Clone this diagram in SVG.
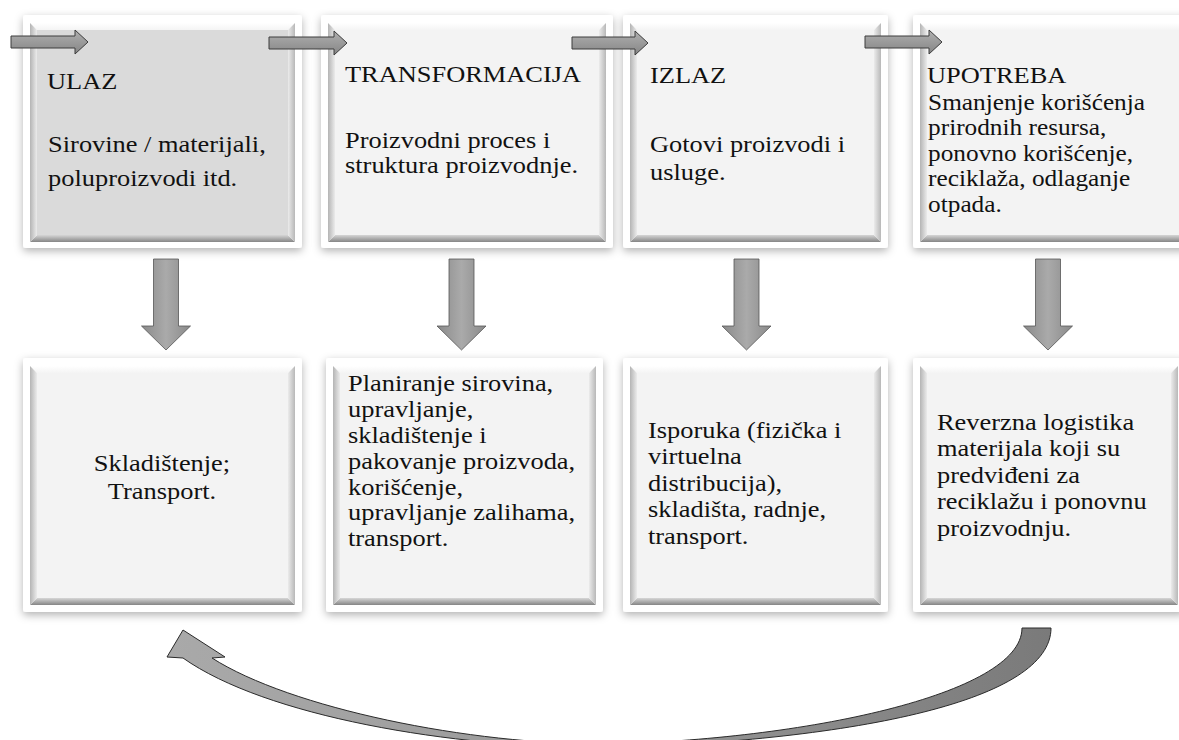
<svg xmlns="http://www.w3.org/2000/svg" width="1179" height="740" viewBox="0 0 1179 740">
<defs>
<filter id="sh" x="-10%" y="-10%" width="120%" height="125%">
<feDropShadow dx="0" dy="3" stdDeviation="4" flood-color="#000" flood-opacity="0.3"/>
</filter>
<linearGradient id="gTop" x1="0" y1="0" x2="0" y2="1"><stop offset="0" stop-color="#ffffff"/><stop offset="1" stop-color="#f4f4f4"/></linearGradient>
<linearGradient id="gBot" x1="0" y1="0" x2="0" y2="1"><stop offset="0" stop-color="#d6d6d6"/><stop offset="1" stop-color="#858585"/></linearGradient>
<linearGradient id="gLeft" x1="0" y1="0" x2="1" y2="0"><stop offset="0" stop-color="#b4b4b4"/><stop offset="1" stop-color="#ebebeb"/></linearGradient>
<linearGradient id="gRight" x1="0" y1="0" x2="1" y2="0"><stop offset="0" stop-color="#ebebeb"/><stop offset="1" stop-color="#b8b8b8"/></linearGradient>
<linearGradient id="gH" x1="0" y1="0" x2="0" y2="1"><stop offset="0" stop-color="#b0b0b0"/><stop offset="1" stop-color="#858585"/></linearGradient>
<linearGradient id="gV" x1="0" y1="0" x2="1" y2="0"><stop offset="0" stop-color="#8a8a8a"/><stop offset="0.5" stop-color="#aaaaaa"/><stop offset="1" stop-color="#8a8a8a"/></linearGradient>
<linearGradient id="gC" x1="0" y1="0" x2="1" y2="0"><stop offset="0" stop-color="#a9a9a9"/><stop offset="0.5" stop-color="#999999"/><stop offset="1" stop-color="#7a7a7a"/></linearGradient>
</defs>
<style>
.frame{fill:#ffffff;filter:url(#sh)}
.bt{fill:url(#gTop)}
.bb{fill:url(#gBot)}
.bl{fill:url(#gLeft)}
.br{fill:url(#gRight)}
.face{fill:#f3f3f3}
.face1{fill:#dadada}
.t{font-family:"Liberation Serif","Times New Roman",serif;font-size:24px;fill:#111}
.s{font-size:23px}
.c{text-anchor:middle}
.ah{fill:url(#gH);stroke:#3c3c3c;stroke-width:1}
.av{fill:url(#gV);stroke:#555;stroke-width:0.8}
.ac{fill:url(#gC);stroke:#2a2a2a;stroke-width:1}
</style>

<g id="top1">
<rect class="frame" x="23" y="15" width="279" height="233" rx="3"/>
<polygon class="bt" points="30,23 295,23 288,30 37,30"/>
<polygon class="bb" points="30,242 295,242 288,235 37,235"/>
<polygon class="bl" points="30,23 37,30 37,235 30,242"/>
<polygon class="br" points="295,23 288,30 288,235 295,242"/>
<rect class="face1" x="37" y="30" width="251" height="205"/>
<g transform="translate(47,0) scale(1.1,1)">
<text class="t" x="0" y="89">ULAZ</text>
<text class="t" x="1" y="152">Sirovine / materijali,</text>
<text class="t" x="1" y="186">poluproizvodi itd.</text>
</g>
</g>

<g id="top2">
<rect class="frame" x="321" y="15" width="292" height="233" rx="3"/>
<polygon class="bt" points="328,23 606,23 599,30 335,30"/>
<polygon class="bb" points="328,242 606,242 599,235 335,235"/>
<polygon class="bl" points="328,23 335,30 335,235 328,242"/>
<polygon class="br" points="606,23 599,30 599,235 606,242"/>
<rect class="face" x="335" y="30" width="264" height="205"/>
<g transform="translate(345,0) scale(1.1,1)">
<text class="t" x="0" y="82">TRANSFORMACIJA</text>
<text class="t" x="0" y="148">Proizvodni proces i</text>
<text class="t" x="0" y="173">struktura proizvodnje.</text>
</g>
</g>

<g id="top3">
<rect class="frame" x="623" y="15" width="265" height="233" rx="3"/>
<polygon class="bt" points="630,23 881,23 874,30 637,30"/>
<polygon class="bb" points="630,242 881,242 874,235 637,235"/>
<polygon class="bl" points="630,23 637,30 637,235 630,242"/>
<polygon class="br" points="881,23 874,30 874,235 881,242"/>
<rect class="face" x="637" y="30" width="237" height="205"/>
<g transform="translate(650,0) scale(1.1,1)">
<text class="t" x="0" y="83">IZLAZ</text>
<text class="t" x="0" y="152">Gotovi proizvodi i</text>
<text class="t" x="0" y="180">usluge.</text>
</g>
</g>

<g id="top4">
<rect class="frame" x="913" y="15" width="280" height="233" rx="3"/>
<polygon class="bt" points="920,23 1186,23 1179,30 927,30"/>
<polygon class="bb" points="920,242 1186,242 1179,235 927,235"/>
<polygon class="bl" points="920,23 927,30 927,235 920,242"/>
<rect class="face" x="927" y="30" width="260" height="205"/>
<g transform="translate(927,0) scale(1.1,1)">
<text class="t" x="0" y="83">UPOTREBA</text>
<text class="t s" x="1" y="110">Smanjenje korišćenja</text>
<text class="t s" x="1" y="135.5">prirodnih resursa,</text>
<text class="t s" x="1" y="161">ponovno korišćenje,</text>
<text class="t s" x="1" y="186.5">reciklaža, odlaganje</text>
<text class="t s" x="1" y="212">otpada.</text>
</g>
</g>

<g id="bot1">
<rect class="frame" x="23" y="358" width="279" height="254" rx="3"/>
<polygon class="bt" points="30,366 295,366 288,373 37,373"/>
<polygon class="bb" points="30,605 295,605 288,598 37,598"/>
<polygon class="bl" points="30,366 37,373 37,598 30,605"/>
<polygon class="br" points="295,366 288,373 288,598 295,605"/>
<rect class="face" x="37" y="373" width="251" height="225"/>
<g transform="translate(162,0) scale(1.1,1)">
<text class="t c" x="0" y="471">Skladištenje;</text>
<text class="t c" x="0" y="499">Transport.</text>
</g>
</g>

<g id="bot2">
<rect class="frame" x="326" y="358" width="277" height="254" rx="3"/>
<polygon class="bt" points="333,366 596,366 589,373 340,373"/>
<polygon class="bb" points="333,605 596,605 589,598 340,598"/>
<polygon class="bl" points="333,366 340,373 340,598 333,605"/>
<polygon class="br" points="596,366 589,373 589,598 596,605"/>
<rect class="face" x="340" y="373" width="249" height="225"/>
<g transform="translate(348,0) scale(1.1,1)">
<text class="t" x="0" y="391.5">Planiranje sirovina,</text>
<text class="t" x="0" y="417.3">upravljanje,</text>
<text class="t" x="0" y="443.1">skladištenje i</text>
<text class="t" x="0" y="468.9">pakovanje proizvoda,</text>
<text class="t" x="0" y="494.7">korišćenje,</text>
<text class="t" x="0" y="520.5">upravljanje zalihama,</text>
<text class="t" x="0" y="546.3">transport.</text>
</g>
</g>

<g id="bot3">
<rect class="frame" x="623" y="358" width="265" height="254" rx="3"/>
<polygon class="bt" points="630,366 881,366 874,373 637,373"/>
<polygon class="bb" points="630,605 881,605 874,598 637,598"/>
<polygon class="bl" points="630,366 637,373 637,598 630,605"/>
<polygon class="br" points="881,366 874,373 874,598 881,605"/>
<rect class="face" x="637" y="373" width="237" height="225"/>
<g transform="translate(648,0) scale(1.1,1)">
<text class="t" x="0" y="438">Isporuka (fizička i</text>
<text class="t" x="0" y="464.5">virtuelna</text>
<text class="t" x="0" y="491">distribucija),</text>
<text class="t" x="0" y="517.5">skladišta, radnje,</text>
<text class="t" x="0" y="544">transport.</text>
</g>
</g>

<g id="bot4">
<rect class="frame" x="913" y="358" width="272" height="254" rx="3"/>
<polygon class="bt" points="920,366 1178,366 1171,373 927,373"/>
<polygon class="bb" points="920,605 1178,605 1171,598 927,598"/>
<polygon class="bl" points="920,366 927,373 927,598 920,605"/>
<polygon class="br" points="1178,366 1171,373 1171,598 1178,605"/>
<rect class="face" x="927" y="373" width="244" height="225"/>
<g transform="translate(937,0) scale(1.1,1)">
<text class="t" x="0" y="430">Reverzna logistika</text>
<text class="t" x="0" y="456.5">materijala koji su</text>
<text class="t" x="0" y="483">predviđeni za</text>
<text class="t" x="0" y="509.5">reciklažu i ponovnu</text>
<text class="t" x="0" y="536">proizvodnju.</text>
</g>
</g>

<g id="connectors">
<polygon class="ah" points="11,36 75,36 75,30 88,42 75,54 75,48 11,48"/>
<polygon class="ah" points="269,37 334,37 334,31 347,43 334,55 334,49 269,49"/>
<polygon class="ah" points="572,37 635,37 635,31 648,43 635,55 635,49 572,49"/>
<polygon class="ah" points="865,36 929,36 929,30 942,42 929,54 929,48 865,48"/>
<polygon class="av" points="153.5,259 178.5,259 178.5,326 190.5,326 166,350 141.5,326 153.5,326"/>
<polygon class="av" points="449,259 474,259 474,326 486,326 461.5,350 437,326 449,326"/>
<polygon class="av" points="734,259 759,259 759,326 771,326 746.5,350 722,326 734,326"/>
<polygon class="av" points="1035.5,259 1060.5,259 1060.5,326 1072.5,326 1048,350 1023.5,326 1035.5,326"/>
<path class="ac" d="M1051,628 C1051,700 860,740 607,748 C450,748 265,716 183,658 L167,657 L183,630 L225,657 L212,658 C290,708 470,745 607,744 C800,740 1022,695 1022,628 Z"/>
</g>
</svg>
